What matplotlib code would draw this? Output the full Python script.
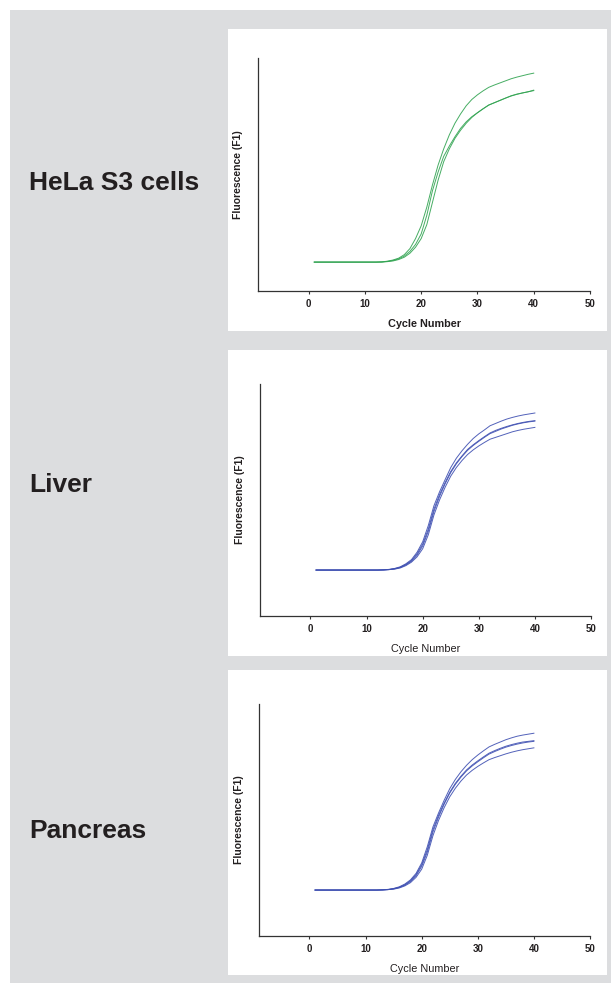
import numpy as np
import matplotlib.pyplot as plt
from matplotlib.patches import Rectangle

plt.rcParams['font.family'] = ['Liberation Sans', 'DejaVu Sans']

cycles = list(range(1, 41))

# HeLa S3 cells (green), fluorescence in % of the axis height
hela_1 = [12.4, 12.4, 12.4, 12.4, 12.4, 12.4, 12.4, 12.4, 12.4, 12.4, 12.4, 12.4,
          12.5, 12.8, 13.3, 14.1, 15.6, 18.2, 22.5, 28.0, 36.0, 45.5, 54.0, 61.0,
          67.0, 72.0, 76.0, 79.5, 82.2, 84.2, 85.9, 87.4, 88.4, 89.3, 90.2, 91.1,
          91.8, 92.4, 93.0, 93.5]
hela_2 = [12.4, 12.4, 12.4, 12.4, 12.4, 12.4, 12.4, 12.4, 12.4, 12.4, 12.4, 12.4,
          12.5, 12.7, 13.1, 13.8, 15.0, 17.0, 20.0, 24.5, 32.5, 43.0, 51.0, 57.8,
          62.2, 66.2, 69.8, 72.6, 74.8, 76.5, 78.2, 79.8, 80.8, 81.8, 82.8, 83.8,
          84.5, 85.0, 85.5, 86.0]
hela_3 = [12.4, 12.4, 12.4, 12.4, 12.4, 12.4, 12.4, 12.4, 12.4, 12.4, 12.4, 12.4,
          12.4, 12.6, 12.9, 13.5, 14.5, 16.2, 18.8, 22.5, 28.5, 38.0, 47.5, 55.5,
          61.0, 65.5, 69.0, 72.0, 74.5, 76.5, 78.2, 79.8, 80.8, 81.8, 82.8, 83.7,
          84.4, 85.0, 85.5, 86.2]

# Liver (blue)
liver_1 = [19.8, 19.8, 19.8, 19.8, 19.8, 19.8, 19.8, 19.8, 19.8, 19.8, 19.8, 19.8,
           19.9, 20.1, 20.5, 21.2, 22.5, 24.3, 27.5, 32.0, 39.0, 47.5, 53.5, 58.8,
           64.0, 68.0, 71.2, 74.0, 76.5, 78.5, 80.2, 82.0, 83.0, 84.0, 84.9, 85.6,
           86.2, 86.7, 87.1, 87.5]
liver_2 = [19.8, 19.8, 19.8, 19.8, 19.8, 19.8, 19.8, 19.8, 19.8, 19.8, 19.8, 19.8,
           19.9, 20.0, 20.4, 21.0, 22.2, 23.9, 26.8, 31.0, 37.5, 46.0, 52.3, 57.5,
           62.3, 66.0, 69.0, 71.8, 73.8, 75.6, 77.3, 78.9, 80.0, 80.9, 81.7, 82.4,
           83.0, 83.5, 83.9, 84.2]
liver_3 = [19.8, 19.8, 19.8, 19.8, 19.8, 19.8, 19.8, 19.8, 19.8, 19.8, 19.8, 19.8,
           19.9, 20.0, 20.3, 20.9, 22.0, 23.6, 26.2, 30.2, 36.5, 45.0, 51.5, 57.0,
           61.8, 65.6, 68.7, 71.4, 73.5, 75.3, 77.0, 78.6, 79.6, 80.6, 81.4, 82.2,
           82.8, 83.3, 83.7, 84.0]
liver_4 = [19.8, 19.8, 19.8, 19.8, 19.8, 19.8, 19.8, 19.8, 19.8, 19.8, 19.8, 19.8,
           19.8, 20.0, 20.2, 20.7, 21.7, 23.2, 25.5, 29.0, 35.0, 43.5, 50.0, 55.5,
           60.3, 64.0, 67.0, 69.6, 71.6, 73.3, 74.8, 76.2, 77.0, 77.8, 78.6, 79.4,
           80.0, 80.5, 80.9, 81.3]

# Pancreas (blue)
pancreas_1 = [19.8, 19.8, 19.8, 19.8, 19.8, 19.8, 19.8, 19.8, 19.8, 19.8, 19.8, 19.8,
              19.9, 20.1, 20.5, 21.2, 22.4, 24.2, 27.0, 31.5, 38.5, 47.0, 53.0, 58.5,
              63.5, 67.5, 70.8, 73.6, 76.0, 78.0, 79.8, 81.5, 82.6, 83.6, 84.6, 85.4,
              86.1, 86.6, 87.0, 87.4]
pancreas_2 = [19.8, 19.8, 19.8, 19.8, 19.8, 19.8, 19.8, 19.8, 19.8, 19.8, 19.8, 19.8,
              19.9, 20.0, 20.4, 21.0, 22.1, 23.8, 26.5, 30.7, 37.2, 45.8, 52.0, 57.3,
              62.0, 65.8, 68.9, 71.6, 73.7, 75.5, 77.2, 78.8, 79.9, 80.9, 81.8, 82.5,
              83.1, 83.6, 83.9, 84.2]
pancreas_3 = [19.8, 19.8, 19.8, 19.8, 19.8, 19.8, 19.8, 19.8, 19.8, 19.8, 19.8, 19.8,
              19.9, 20.0, 20.3, 20.9, 21.9, 23.5, 26.0, 30.0, 36.2, 44.8, 51.2, 56.8,
              61.6, 65.4, 68.5, 71.2, 73.3, 75.1, 76.8, 78.4, 79.5, 80.5, 81.4, 82.1,
              82.7, 83.2, 83.6, 83.9]
pancreas_4 = [19.8, 19.8, 19.8, 19.8, 19.8, 19.8, 19.8, 19.8, 19.8, 19.8, 19.8, 19.8,
              19.8, 20.0, 20.2, 20.7, 21.6, 23.0, 25.3, 28.8, 34.8, 43.2, 49.8, 55.3,
              60.0, 63.7, 66.8, 69.4, 71.4, 73.1, 74.6, 76.0, 76.9, 77.7, 78.5, 79.2,
              79.8, 80.3, 80.7, 81.1]

x_ticks = [0, 10, 20, 30, 40, 50]
sample_names = ['HeLa S3 cells', 'Liver', 'Pancreas']
panel_series = [[hela_1, hela_2, hela_3],
                [liver_1, liver_2, liver_3, liver_4],
                [pancreas_1, pancreas_2, pancreas_3, pancreas_4]]
panel_colors = ['#32a452', '#3f50b2']
line_colors = [panel_colors[0], panel_colors[1], panel_colors[1]]
xlabel_weight = ['bold', 'normal', 'normal']

W, H = 611, 983
fig = plt.figure(figsize=(W / 100, H / 100), dpi=100)
fig.patch.set_facecolor('white')

def px_rect(x0, y0, x1, y1, color):
    # rectangle given in image pixels (y downwards), kept behind the axes
    r = Rectangle((x0 / W, 1 - y1 / H), (x1 - x0) / W, (y1 - y0) / H,
                  transform=fig.transFigure, facecolor=color,
                  edgecolor='none', zorder=-10)
    fig.add_artist(r)

px_rect(10, 10, 611, 983, '#dcdddf')

# white boxes, axes boxes (left, top, right, bottom) and label centre y, in pixels
white_boxes = [(228, 29, 607, 331), (228, 350, 607, 656), (228, 670, 607, 975)]
axes_boxes = [(258, 58, 590, 291), (260, 384, 591, 616), (259, 704, 590, 936)]
name_y = [183, 485, 831]

for i in range(3):
    px_rect(*white_boxes[i], 'white')

for i in range(3):
    l, t, r, b = axes_boxes[i]
    ax = fig.add_axes([l / W, 1 - b / H, (r - l) / W, (b - t) / H])
    ax.set_zorder(5)
    ax.set_facecolor('none')
    for s in panel_series[i]:
        ax.plot(cycles, s, color=line_colors[i], lw=0.7, alpha=0.9)
    ax.set_xlim(-9, 50)
    ax.set_ylim(0, 100)
    ax.set_xticks(x_ticks)
    ax.set_yticks([])
    ax.spines['top'].set_visible(False)
    ax.spines['right'].set_visible(False)
    ax.spines['left'].set_color('#333333')
    ax.spines['bottom'].set_color('#333333')
    ax.spines['left'].set_linewidth(0.9)
    ax.spines['bottom'].set_linewidth(0.9)
    ax.tick_params(axis='x', length=2.5, width=0.8, color='#333333', pad=3.5,
                   labelsize=7, labelcolor='#231f20')
    for lab in ax.get_xticklabels():
        lab.set_fontweight('bold')
    ax.set_xlabel('Cycle Number', fontsize=7.8, fontweight=xlabel_weight[i],
                  color='#231f20', labelpad=7)
    ax.set_ylabel('Fluorescence (F1)', fontsize=7.5, fontweight='bold',
                  color='#231f20', labelpad=11)
    fig.text(29 / W, 1 - name_y[i] / H, sample_names[i], fontsize=19,
             fontweight='bold', color='#231f20', ha='left', va='center')

fig.savefig('out.png', dpi=100)
